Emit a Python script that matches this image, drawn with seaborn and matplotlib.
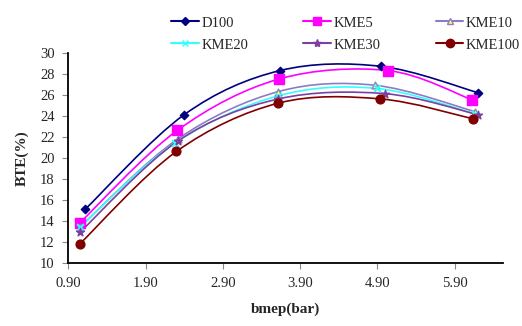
import numpy as np
import pandas as pd
import seaborn as sns
import matplotlib
matplotlib.use("Agg")
import matplotlib.pyplot as plt
from matplotlib.path import Path
from matplotlib.patches import PathPatch
from matplotlib.lines import Line2D

# ---- data ----
series = ["D100", "KME5", "KME10", "KME20", "KME30", "KME100"]
bmep_D100 = [1.12, 2.40, 3.64, 4.95, 6.20]
bte_D100 = [15.1, 24.1, 28.3, 28.7, 26.2]
bmep_KME5 = [1.05, 2.31, 3.63, 5.04, 6.13]
bte_KME5 = [13.8, 22.6, 27.5, 28.3, 25.5]
bmep_KME10 = [1.05, 2.32, 3.62, 4.87, 6.16]
bte_KME10 = [13.4, 21.8, 26.3, 26.9, 24.4]
bmep_KME20 = [1.05, 2.28, 3.62, 4.89, 6.16]
bte_KME20 = [13.4, 21.4, 25.9, 26.6, 24.2]
bmep_KME30 = [1.05, 2.32, 3.62, 5.00, 6.20]
bte_KME30 = [12.9, 21.6, 25.6, 26.1, 24.1]
bmep_KME100 = [1.05, 2.30, 3.62, 4.94, 6.14]
bte_KME100 = [11.8, 20.6, 25.2, 25.6, 23.7]
xticks = [0.90, 1.90, 2.90, 3.90, 4.90, 5.90]
yticks = [10, 12, 14, 16, 18, 20, 22, 24, 26, 28, 30]

xs = [bmep_D100, bmep_KME5, bmep_KME10, bmep_KME20, bmep_KME30, bmep_KME100]
ys = [bte_D100, bte_KME5, bte_KME10, bte_KME20, bte_KME30, bte_KME100]

rows = []
for name, x, y in zip(series, xs, ys):
    for a, b in zip(x, y):
        rows.append({"bmep": a, "bte": b, "fuel": name})
df = pd.DataFrame(rows)

colors = {"D100": "#000080", "KME5": "#FF00FF", "KME10": "#8E7CC3",
          "KME20": "#33FFFF", "KME30": "#7F3F9F", "KME100": "#800000"}
markers = {"D100": "D", "KME5": "s", "KME10": "^", "KME20": "x",
           "KME30": "*", "KME100": "o"}
msize = {"D100": 18, "KME5": 42, "KME10": 24, "KME20": 24,
         "KME30": 36, "KME100": 40}
mfc = {"D100": "#000080", "KME5": "#FF00FF", "KME10": "#FFFF66",
       "KME20": "#33FFFF", "KME30": "#7F3F9F", "KME100": "#800000"}
lsize = {"D100": 4, "KME5": 6, "KME10": 5, "KME20": 5, "KME30": 6,
         "KME100": 6}

sns.set_style("white")
plt.rcParams["font.family"] = ["Liberation Serif", "DejaVu Serif"]

fig = plt.figure(figsize=(5.22, 3.26), dpi=100)
ax = fig.add_axes([0.1309, 0.1942, 0.8333, 0.6441])


def smooth_path(x, y):
    pts = np.column_stack([x, y])
    n = len(pts)
    verts = [pts[0]]
    codes = [Path.MOVETO]
    for i in range(n - 1):
        p0 = pts[i - 1] if i > 0 else pts[i]
        p1 = pts[i]
        p2 = pts[i + 1]
        p3 = pts[i + 2] if i + 2 < n else pts[i + 1]
        c1 = p1 + (p2 - p0) / 6.0
        c2 = p2 - (p3 - p1) / 6.0
        verts += [c1, c2, p2]
        codes += [Path.CURVE4] * 3
    return Path(verts, codes)


for name, x, y in zip(series, xs, ys):
    ax.add_patch(PathPatch(smooth_path(x, y), facecolor="none",
                           edgecolor=colors[name], lw=1.2, zorder=2))

for name in series:
    sub = df[df["fuel"] == name]
    ec = colors[name]
    sns.scatterplot(data=sub, x="bmep", y="bte", ax=ax, marker=markers[name],
                    s=msize[name], color=mfc[name],
                    edgecolor=ec if markers[name] != "x" else None,
                    linewidth=1.0 if markers[name] != "x" else 1.5,
                    zorder=3, legend=False)

ax.set_xlim(0.9, 6.53)
ax.set_ylim(10, 30)
ax.set_xticks(xticks)
ax.set_xticklabels([f"{t:.2f}" for t in xticks])
ax.set_yticks(yticks)
for s in ["top", "right"]:
    ax.spines[s].set_visible(False)
for s in ["left", "bottom"]:
    ax.spines[s].set_color("black")
    ax.spines[s].set_linewidth(1.3)
ax.tick_params(axis="both", which="major", direction="out", length=4,
               width=0.8, color="#888888", labelsize=10.5, pad=6,
               left=True, bottom=True)
ax.set_xlabel("bmep(bar)", fontsize=11, fontweight="bold", labelpad=9)
ax.set_ylabel("BTE(%)", fontsize=11, fontweight="bold", labelpad=8)

handles = {}
for name in series:
    handles[name] = Line2D([0], [0], color=colors[name], lw=1.5,
                           marker=markers[name], markersize=lsize[name],
                           markerfacecolor=mfc[name],
                           markeredgecolor=colors[name])
order = ["D100", "KME20", "KME5", "KME30", "KME10", "KME100"]
fig.legend([handles[n] for n in order], order, ncol=3,
           loc="upper left", bbox_to_anchor=(0.303, 0.99), frameon=False,
           fontsize=10.5, handlelength=1.9, handletextpad=0.15,
           columnspacing=3.8, labelspacing=0.6)

fig.savefig("out.png", dpi=100)
